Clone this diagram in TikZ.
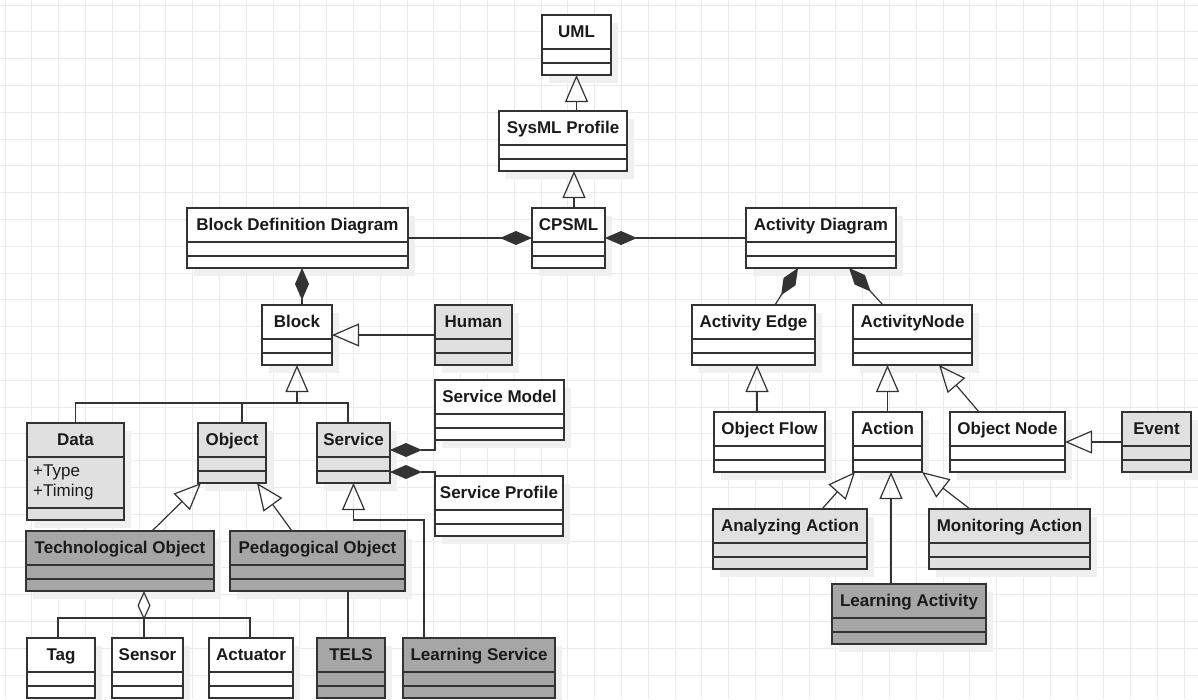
\documentclass[tikz,border=0pt]{standalone}
\usepackage{fontspec}
\setmainfont{Liberation Sans}
\usetikzlibrary{arrows.meta}

\definecolor{linec}{HTML}{333333}
\definecolor{lightc}{HTML}{E0E0E0}
\definecolor{darkc}{HTML}{A6A6A6}
\definecolor{gridc}{HTML}{EBEBEB}
\definecolor{shadowc}{HTML}{F0F0F0}
\definecolor{textc}{HTML}{1A1A1A}

\newcommand{\umltitlefont}{\fontsize{17}{20}\selectfont\bfseries}
\newcommand{\umlattrfont}{\fontsize{17}{20}\selectfont}

\tikzset{
  classbox/.style={draw=linec, line width=1.2pt, inner sep=0pt, outer sep=0pt, anchor=north west},
  whitefill/.style={fill=white},
  lightfill/.style={fill=lightc},
  darkfill/.style={fill=darkc},
  titletext/.style={font=\umltitlefont, text=textc, inner sep=0pt, anchor=base},
  attrtext/.style={font=\umlattrfont, text=textc, inner sep=0pt, anchor=base west},
  boxshadow/.style={fill=shadowc},
  conn/.style={draw=linec, line width=1.2pt},
  gen/.style={conn, -{Triangle[open, length=27pt, width=23pt]}},
  comp/.style={conn, {Diamond[length=32pt, width=14pt]}-},
  compend/.style={conn, -{Diamond[length=32pt, width=14pt]}},
  agg/.style={conn, {Diamond[open, length=29pt, width=13pt]}-},
}

% UML class: name, fill style, left, top, width, title
\newcommand{\umlclass}[6]{%
  \fill[boxshadow] (#3+7,#4+8) rectangle ++(#5,60);
  \node[classbox,#2,minimum width=#5pt,minimum height=60pt] (#1) at (#3,#4) {};
  \draw[conn] ([yshift=-34pt]#1.north west) -- ([yshift=-34pt]#1.north east);
  \draw[conn] ([yshift=-48pt]#1.north west) -- ([yshift=-48pt]#1.north east);
  \node[titletext] (#1-t) at ([yshift=-22.5pt]#1.north) {#6};
}

\begin{document}
\begin{tikzpicture}[x=1pt,y=-1pt]
\useasboundingbox (0,0) rectangle (1198,699);
\clip (0,0) rectangle (1198,699);
\fill[white] (0,0) rectangle (1198,699);

% background grid
\foreach \i in {0,...,44} \draw[gridc, line width=0.8pt] (5+26.8*\i,0) -- (5+26.8*\i,699);
\foreach \j in {0,...,26} \draw[gridc, line width=0.8pt] (0,5+26.8*\j) -- (1198,5+26.8*\j);

% top of the hierarchy
\umlclass{uml}{whitefill}{542}{15}{69}{UML}
\umlclass{sysml}{whitefill}{499}{111}{128}{SysML Profile}
\umlclass{cpsml}{whitefill}{532}{208}{73}{CPSML}
\umlclass{bdd}{whitefill}{187}{208}{221}{Block Definition Diagram}
\umlclass{ad}{whitefill}{746}{208}{150}{Activity Diagram}

% block definition side
\umlclass{block}{whitefill}{262}{305}{70}{Block}
\umlclass{human}{lightfill}{435}{305}{77}{Human}

% Data class with attributes
\fill[boxshadow] (34,431) rectangle ++(97,97);
\node[classbox,lightfill,minimum width=97pt,minimum height=97pt] (data) at (27,423) {};
\draw[conn] ([yshift=-34pt]data.north west) -- ([yshift=-34pt]data.north east);
\draw[conn] ([yshift=-85pt]data.north west) -- ([yshift=-85pt]data.north east);
\node[titletext] (data-t) at ([yshift=-22.5pt]data.north) {Data};
\node[attrtext] (data-a1) at (33,476.5) {+Type};
\node[attrtext] (data-a2) at (33,496.5) {+Timing};

\umlclass{object}{lightfill}{198}{423}{68}{Object}
\umlclass{service}{lightfill}{317}{423}{73}{Service}
\umlclass{smodel}{whitefill}{435}{380}{129}{Service Model}
\umlclass{sprofile}{whitefill}{435}{476}{128}{Service Profile}
\umlclass{techobj}{darkfill}{26}{531}{188}{Technological Object}
\umlclass{pedobj}{darkfill}{230}{531}{175}{Pedagogical Object}
\umlclass{tag}{whitefill}{27}{638}{68}{Tag}
\umlclass{sensor}{whitefill}{112}{638}{71}{Sensor}
\umlclass{actuator}{whitefill}{209}{638}{84}{Actuator}
\umlclass{tels}{darkfill}{317}{638}{68}{TELS}
\umlclass{lserv}{darkfill}{403}{638}{152}{Learning Service}

% activity side
\umlclass{ae}{whitefill}{692}{305}{123}{Activity Edge}
\umlclass{an}{whitefill}{853}{305}{119}{ActivityNode}
\umlclass{of}{whitefill}{714}{412}{111}{Object Flow}
\umlclass{action}{whitefill}{853}{412}{69}{Action}
\umlclass{onode}{whitefill}{950}{412}{115}{Object Node}
\umlclass{event}{lightfill}{1122}{412}{69}{Event}
\umlclass{analyzing}{lightfill}{713}{509}{154}{Analyzing Action}
\umlclass{monitoring}{lightfill}{929}{509}{161}{Monitoring Action}
\umlclass{lact}{darkfill}{832}{584}{154}{Learning Activity}

% profile stack
\draw[gen] (uml.south |- sysml.north) -- (uml.south);
\draw[gen] ([xshift=5.5pt]cpsml.north) -- ([xshift=5.5pt]cpsml.north |- sysml.south);
\draw[compend] (bdd.east) -- (cpsml.west);
\draw[comp] (cpsml.east) -- (ad.west);

% block definition diagram content
\draw[compend] ([xshift=5pt]block.north) -- ([xshift=5pt]block.north |- bdd.south);
\draw[gen] (human.west) -- (block.east);
\coordinate (bj) at ([yshift=-38pt]block.south);
\draw[gen] (bj) -- (block.south);
\draw[conn] (data.north) |- (bj) -| ([xshift=-5.5pt]service.north);
\draw[conn] ([xshift=10pt]object.north) -- ([xshift=10pt]object.north |- bj);
\draw[comp] ([yshift=-27pt]service.north east) -| (smodel.south west);
\draw[comp] ([yshift=-49pt]service.north east) -| (sprofile.north west);
\draw[gen] ([xshift=21pt]lserv.north west) |- ([yshift=-37pt]service.south) -- (service.south);
\draw[gen] ([xshift=126pt]techobj.north west) -- ([xshift=3pt]object.south west);
\draw[gen] ([xshift=62pt]pedobj.north west) -- ([xshift=-9pt]object.south east);
\coordinate (tj) at ([xshift=118pt,yshift=-27pt]techobj.south west);
\draw[agg] (tj |- techobj.south) -- (tj);
\draw[conn] ([xshift=-3pt]tag.north) |- (tj) -| ([xshift=-1pt]actuator.north);
\draw[conn] (tj) -- (tj |- sensor.north);
\draw[conn] ([xshift=31pt]tels.north west) -- ([xshift=31pt]tels.north west |- pedobj.south);

% activity diagram content
\draw[comp] ([xshift=52pt]ad.south west) -- ([xshift=21.5pt]ae.north);
\draw[comp] ([xshift=103pt]ad.south west) -- ([xshift=30pt]an.north west);
\draw[gen] ([xshift=43pt]of.north west) -- ([xshift=43pt]of.north west |- ae.south);
\draw[gen] (action.north) -- (action.north |- an.south);
\draw[gen] ([xshift=29pt]onode.north west) -- ([xshift=86pt]an.south west);
\draw[gen] (event.west) -- (onode.east);
\draw[gen] ([xshift=109pt]analyzing.north west) -- ([xshift=2pt]action.south west);
\draw[gen] ([xshift=41pt]monitoring.north west) -- (action.south east);
\draw[gen] ([xshift=59pt]lact.north west) -- ([xshift=59pt]lact.north west |- action.south);
\end{tikzpicture}
\end{document}
